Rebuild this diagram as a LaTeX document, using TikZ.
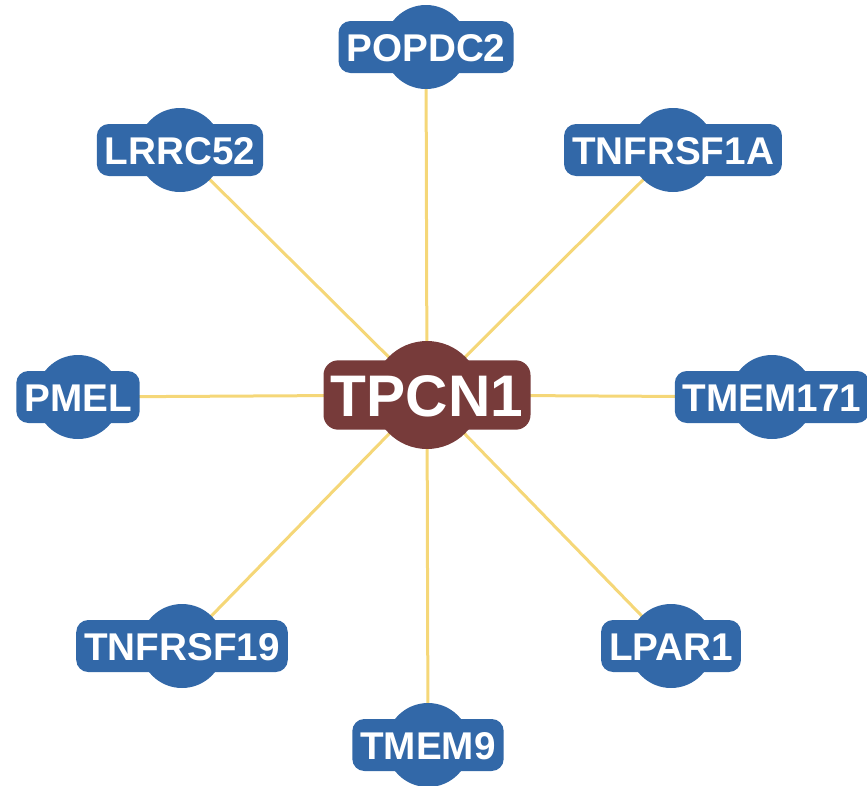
\documentclass[tikz,border=0pt]{standalone}
\usepackage{fontspec}
\setmainfont{Liberation Sans}
\usetikzlibrary{backgrounds}

\definecolor{geneblue}{RGB}{50,104,168}
\definecolor{hubbrown}{RGB}{119,59,58}
\definecolor{linkyellow}{RGB}{245,215,120}

\tikzset{every picture/.style={line width=0.75pt}}
\tikzset{
  genedot/.style={circle,fill=geneblue,minimum size=63pt,inner sep=0pt},
  genelabel/.style={fill=geneblue,rounded corners=9pt,text=white,inner xsep=6pt,inner ysep=9pt,
    text height=21pt,text depth=0pt,font=\fontsize{29}{29}\selectfont\bfseries},
  hubdot/.style={circle,fill=hubbrown,minimum size=81pt,inner sep=0pt},
  hublabel/.style={fill=hubbrown,rounded corners=11pt,text=white,inner xsep=5.5pt,inner ysep=10pt,
    text height=32pt,text depth=0pt,font=\fontsize{44}{44}\selectfont\bfseries},
  link/.style={draw=linkyellow,line width=2.25pt}
}

\begin{document}
\begin{tikzpicture}[x=0.75pt,y=0.75pt,yscale=-1,xscale=1]
\useasboundingbox (0,0) rectangle (867,785);

% hub
\node [hubdot] (tpcn1) at (427,395) {};
\node [hublabel] (tpcn1lbl) at (tpcn1) {TPCN1};

% partners
\foreach \name/\x/\y/\txt in {popdc2/426/47/POPDC2, lrrc52/180/150/LRRC52, tnfrsf1a/673/150/TNFRSF1A,
    pmel/78/397/PMEL, tmem171/772/397/TMEM171, tnfrsf19/182/646/TNFRSF19,
    lpar1/671/646/LPAR1, tmem9/428/745/TMEM9}{
  \node [genedot] (\name) at (\x,\y) {};
  \node [genelabel] (\name lbl) at (\name) {\txt};
}

% links
\begin{pgfonlayer}{background}
\foreach \name in {popdc2,lrrc52,tnfrsf1a,pmel,tmem171,tnfrsf19,lpar1,tmem9}
  \draw [link] (tpcn1.center) -- (\name.center);
\end{pgfonlayer}

\end{tikzpicture}
\end{document}
